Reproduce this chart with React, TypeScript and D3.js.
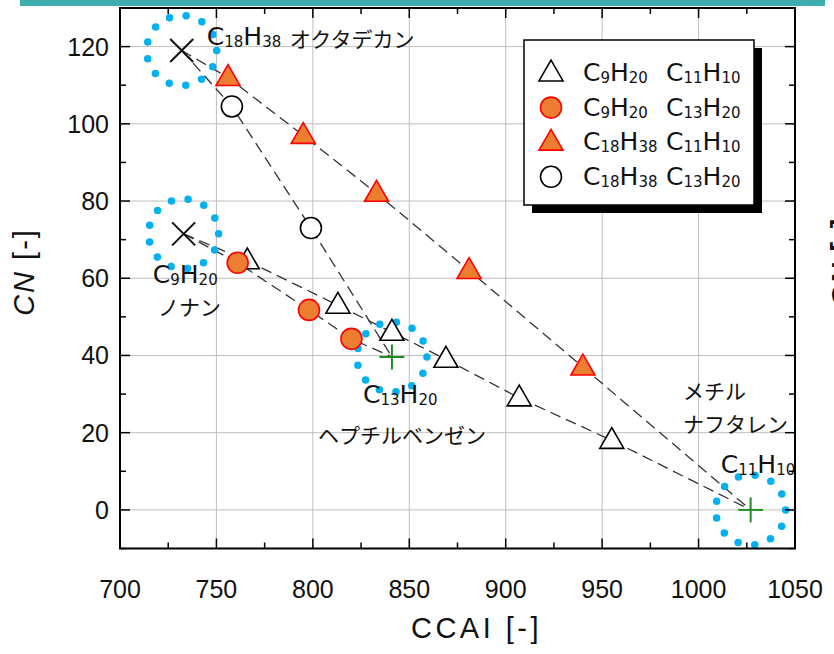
import * as d3 from 'd3';

const W = 834;
const H = 654;

// axes
const xTicks = [700, 750, 800, 850, 900, 950, 1000, 1050];
const yTicks = [0, 20, 40, 60, 80, 100, 120];

// pure components (CCAI, CN)
const compNames = ['C18H38', 'C9H20', 'C13H20', 'C11H10'];
const compX = [732, 733, 841, 1027];
const compY = [119, 71.5, 39.6, 0];
const compMark = ['x', 'x', 'plus', 'plus'];

// mixtures
const c9c11X = [766, 813, 841, 869, 907, 955];
const c9c11Y = [64.5, 53, 46, 39, 29, 18];
const c9c13X = [761, 798, 820];
const c9c13Y = [64, 51.8, 44.3];
const c18c11X = [756, 795, 833, 881, 940];
const c18c11Y = [112, 97, 82, 62, 37];
const c18c13X = [758, 799];
const c18c13Y = [104.5, 73];

const series = [
  { a: 'C9H20', b: 'C11H10', xs: c9c11X, ys: c9c11Y, shape: 'tri', fill: '#FFFFFF', stroke: '#000000' },
  { a: 'C9H20', b: 'C13H20', xs: c9c13X, ys: c9c13Y, shape: 'circ', fill: '#ED7D31', stroke: '#FF0000' },
  { a: 'C18H38', b: 'C11H10', xs: c18c11X, ys: c18c11Y, shape: 'tri', fill: '#ED7D31', stroke: '#FF0000' },
  { a: 'C18H38', b: 'C13H20', xs: c18c13X, ys: c18c13Y, shape: 'circ', fill: '#FFFFFF', stroke: '#000000' },
];

// annotations: text, data x, data y (baseline start)
const annFormula = [
  { t: 'C18H38', x: 745, y: 120.3 },
  { t: 'C9H20', x: 717, y: 58.7 },
  { t: 'C13H20', x: 826, y: 27.6 },
  { t: 'C11H10', x: 1011.5, y: 9.5 },
];
const annJp = [
  { t: 'オクタデカン', x: 788, y: 119.8 },
  { t: 'ノナン', x: 719.7, y: 50.4 },
  { t: 'ヘプチルベンゼン', x: 802.7, y: 17.2 },
  { t: 'メチル', x: 991.9, y: 28.6 },
  { t: 'ナフタレン', x: 991.9, y: 20.1 },
];

const FORM_FONT = 'DejaVu Sans, sans-serif';
const JP_FONT = '"Noto Sans CJK JP", sans-serif';
const NUM_FONT = '"Liberation Sans", Arial, sans-serif';

function Formula({ text, x, y, size = 25, sub = 15 }: { text: string; x: number; y: number; size?: number; sub?: number }) {
  const parts = text.match(/[A-Z][a-z]?|\d+/g) || [];
  let lowered = false;
  return (
    <text x={x} y={y} fontFamily={FORM_FONT} fill="#111">
      {parts.map((p, i) => {
        const isNum = /\d/.test(p);
        let dy = 0;
        if (isNum && !lowered) { dy = 2; lowered = true; }
        if (!isNum && lowered) { dy = -2; lowered = false; }
        return (
          <tspan key={i} fontSize={isNum ? sub : size} dy={dy}>{p}</tspan>
        );
      })}
    </text>
  );
}

function Marker({ shape, cx, cy, fill, stroke }: { shape: string; cx: number; cy: number; fill: string; stroke: string }) {
  if (shape === 'circ') {
    return <circle cx={cx} cy={cy} r={10.5} fill={fill} stroke={stroke} strokeWidth={1.6} />;
  }
  const tri = d3.symbol().type(d3.symbolTriangle).size(250)();
  return <path d={tri || ''} transform={`translate(${cx},${cy + 1})`} fill={fill} stroke={stroke} strokeWidth={1.6} strokeLinejoin="miter" />;
}

export default function App() {
  const x = d3.scaleLinear().domain([700, 1050]).range([120, 795]);
  const y = d3.scaleLinear().domain([-10, 130]).range([548.5, 8]);
  const line = d3.line<[number, number]>().x(d => x(d[0])).y(d => y(d[1]));
  const comp = (name: string): [number, number] => {
    const i = compNames.indexOf(name);
    return [compX[i], compY[i]];
  };

  const [x0, x1] = x.range();
  const [y0, y1] = y.range();
  const xMinor = d3.range(700, 1051, 25);
  const yMinor = d3.range(-10, 131, 10);

  const dotR = 35;
  const dotGap = (2 * Math.PI * dotR) / 13;

  const legendTop = 73;
  const legendStep = 34.6;

  return (
    <svg width={W} height={H} style={{ position: 'absolute', left: 0, top: 0, background: '#fff' }}>
      <rect x={0} y={0} width={W} height={H} fill="#fff" />
      {/* cut-off strip from the slide above */}
      <rect x={20} y={0} width={805} height={6} fill="#3DADAD" />

      {/* grid */}
      <g stroke="#BFBFBF" strokeWidth={1}>
        {xTicks.map(t => <line key={'gx' + t} x1={x(t)} x2={x(t)} y1={y0} y2={y1} />)}
        {yTicks.map(t => <line key={'gy' + t} x1={x0} x2={x1} y1={y(t)} y2={y(t)} />)}
      </g>

      {/* dashed mixing lines */}
      <g fill="none" stroke="#333" strokeWidth={1.3} strokeDasharray="11,6">
        {series.map((s, i) => {
          const pts: [number, number][] = [comp(s.a), ...s.xs.map((v, j) => [v, s.ys[j]] as [number, number]), comp(s.b)];
          return <path key={i} d={line(pts) || ''} />;
        })}
      </g>

      {/* blue dotted rings around pure components */}
      <g fill="none" stroke="#00B0F0" strokeWidth={7.5} strokeLinecap="round" strokeDasharray={`0 ${dotGap}`}>
        {compNames.map((n, i) => (
          <circle key={n} cx={x(compX[i])} cy={y(compY[i])} r={dotR} />
        ))}
      </g>

      {/* pure component markers */}
      {compNames.map((n, i) => {
        const cx = x(compX[i]);
        const cy = y(compY[i]);
        if (compMark[i] === 'x') {
          const s = 11.5;
          return (
            <g key={n} stroke="#111" strokeWidth={2}>
              <line x1={cx - s} y1={cy - s} x2={cx + s} y2={cy + s} />
              <line x1={cx - s} y1={cy + s} x2={cx + s} y2={cy - s} />
            </g>
          );
        }
        const s = 12.5;
        return (
          <g key={n} stroke="#1E8C1E" strokeWidth={2}>
            <line x1={cx - s} y1={cy} x2={cx + s} y2={cy} />
            <line x1={cx} y1={cy - s} x2={cx} y2={cy + s} />
          </g>
        );
      })}

      {/* mixture markers */}
      {series.map((s, i) => (
        <g key={'m' + i}>
          {s.xs.map((v, j) => (
            <Marker key={j} shape={s.shape} cx={x(v)} cy={y(s.ys[j])} fill={s.fill} stroke={s.stroke} />
          ))}
        </g>
      ))}

      {/* annotations */}
      {annFormula.map(a => (
        <Formula key={a.t} text={a.t} x={x(a.x)} y={y(a.y)} />
      ))}
      {annJp.map(a => (
        <text key={a.t} x={x(a.x)} y={y(a.y)} fontFamily={JP_FONT} fontSize={21} fill="#111">{a.t}</text>
      ))}

      {/* legend */}
      <g>
        <rect x={532} y={48} width={230} height={165} fill="#000" />
        <rect x={524} y={40} width={230} height={165} fill="#fff" stroke="#000" strokeWidth={1.5} />
        {series.map((s, i) => {
          const cy = legendTop + i * legendStep;
          return (
            <g key={'lg' + i}>
              <Marker shape={s.shape} cx={551} cy={cy} fill={s.fill} stroke={s.stroke} />
              <Formula text={s.a} x={583} y={cy + 8} size={25} sub={15} />
              <Formula text={s.b} x={666} y={cy + 8} size={25} sub={15} />
            </g>
          );
        })}
      </g>

      {/* frame */}
      <rect x={x0} y={y1} width={x1 - x0} height={y0 - y1} fill="none" stroke="#000" strokeWidth={2} />

      {/* inward ticks */}
      <g stroke="#000" strokeWidth={1.5}>
        {xMinor.map(t => {
          const len = t % 50 === 0 ? 10 : 6;
          return (
            <g key={'tx' + t}>
              <line x1={x(t)} x2={x(t)} y1={y0} y2={y0 - len} />
              <line x1={x(t)} x2={x(t)} y1={y1} y2={y1 + len} />
            </g>
          );
        })}
        {yMinor.map(t => {
          const len = t % 20 === 0 ? 10 : 6;
          return (
            <g key={'ty' + t}>
              <line x1={x0} x2={x0 + len} y1={y(t)} y2={y(t)} />
              <line x1={x1} x2={x1 - len} y1={y(t)} y2={y(t)} />
            </g>
          );
        })}
      </g>

      {/* tick labels */}
      <g fontFamily={NUM_FONT} fontSize={25} fill="#111">
        {xTicks.map(t => (
          <text key={'lx' + t} x={x(t)} y={598} textAnchor="middle">{t}</text>
        ))}
        {yTicks.map(t => (
          <text key={'ly' + t} x={109} y={y(t)} dy="0.36em" textAnchor="end">{t}</text>
        ))}
      </g>

      {/* axis titles */}
      <text x={(x0 + x1) / 2 + 19} y={638} textAnchor="middle" fontFamily={NUM_FONT} fontSize={29} letterSpacing={3.5} fill="#111">CCAI [-]</text>
      <text transform="translate(34,272) rotate(-90)" textAnchor="middle" fontFamily={NUM_FONT} fontSize={29} letterSpacing={2} fill="#111">
        <tspan fontStyle="italic">CN</tspan> [-]
      </text>
      {/* neighbouring chart's axis title, cut off at the edge */}
      <text transform="translate(852,262) rotate(-90)" textAnchor="middle" fontFamily={NUM_FONT} fontSize={29} fontWeight="bold" letterSpacing={2} fill="#111">
        <tspan fontStyle="italic">CN</tspan> [-]
      </text>
    </svg>
  );
}
